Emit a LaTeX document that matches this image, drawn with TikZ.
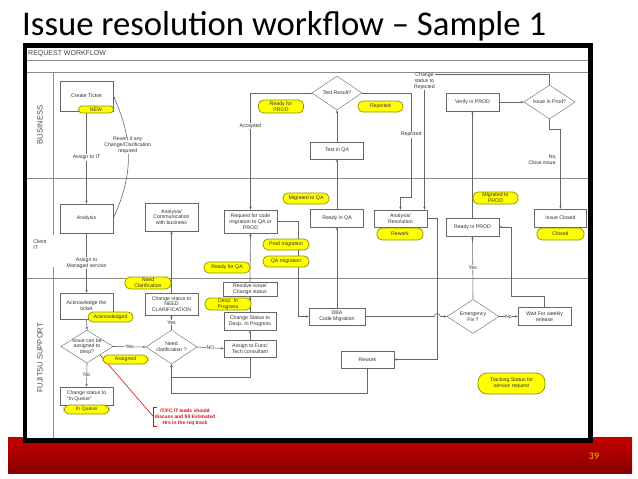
\documentclass[tikz,border=0pt]{standalone}
\usepackage{fontspec}
\setmainfont{Liberation Sans}
\newfontfamily\slidefont{Carlito}
\usetikzlibrary{shapes.geometric,arrows.meta}
\definecolor{lanegray}{HTML}{8C8C8C}
\definecolor{edgegray}{HTML}{666666}
\definecolor{tagfill}{HTML}{FFFF00}
\definecolor{tagline}{HTML}{8F8F00}
\definecolor{bandred}{HTML}{C40000}
\definecolor{pagenum}{HTML}{FFC000}
\definecolor{notered}{HTML}{D01010}
\tikzset{
  txt/.style={font=\fontsize{5.2}{5.8}\selectfont,text=black!80},
  box/.style={txt,draw=edgegray,fill=white,align=center,inner sep=1pt,minimum width=53pt,minimum height=18pt},
  dec/.style={txt,diamond,draw=edgegray,fill=white,align=center,inner sep=-2.5pt,aspect=1.5,minimum width=51pt,minimum height=34pt},
  tag/.style={txt,draw=tagline,fill=tagfill,line width=0.7pt,rounded corners=5pt,align=center,inner sep=0.5pt,minimum width=45pt,minimum height=11pt},
  flow/.style={draw=edgegray,line width=0.6pt},
  lbl/.style={txt,fill=white,inner sep=0.6pt,align=center},
  lane/.style={draw=lanegray,line width=0.8pt}
}
\begin{document}
\begin{tikzpicture}[x=1pt,y=-1pt,>={Stealth[length=3pt,width=2.4pt]}]
\useasboundingbox (0,0) rectangle (638,479);
% slide
\node[anchor=base west,inner sep=0pt,font=\slidefont\fontsize{34.7}{40}\selectfont] (title) at (22,35) {Issue resolution workflow – Sample 1};
\shade[top color=bandred,bottom color=bandred!70!black] (8,437) rectangle (632,473);
\node[font=\slidefont\fontsize{10}{12}\selectfont,text=pagenum] (pg) at (594,456) {39};
\draw[line width=4.5pt,fill=white] (25,45.5) rectangle (590.5,440.5);
% lanes
\draw[lane] (27,60)--(588,60) (27,72)--(588,72) (27,178)--(588,178) (27,278)--(588,278);
\draw[lane] (53,72)--(53,235) (53,267)--(53,438);
\node[anchor=west,inner sep=0pt,font=\fontsize{7}{8}\selectfont,text=black!75] (hdr) at (28,53.5) {REQUEST WORKFLOW};
\node[rotate=90,font=\fontsize{7.6}{9}\selectfont,text=black!70] (bus) at (40,125) {BUSINESS};
\node[txt,align=left] (cli) at (40,245) {Client\\IT};
\node[rotate=90,font=\fontsize{7.6}{9}\selectfont,text=black!70] (fjs) at (40,358) {FUJITSU SUPPORT};
% business
\node[box,minimum height=30pt] (ct) at (86.5,96) {Create Ticket};
\node[dec,minimum width=50pt] (tr) at (337,93) {Test Result?};
\node[box,minimum height=17pt] (tqa) at (337,150.5) {Test in QA};
\node[box] (vp) at (472.5,102) {Verify in PROD};
\node[dec] (ip) at (549.5,102) {Issue in Prod?};
\node[txt,align=center,inner sep=0.5pt] (chg) at (424.5,81) {Change\\status to\\Rejected};
% client it
\node[box,minimum height=29pt] (an) at (86.5,218.5) {Analysis};
\node[box,minimum height=28pt] (ac) at (171.5,217) {Analysis/\\Communication\\with business};
\node[box,minimum height=23pt] (rq) at (250.5,221.5) {Request for code\\migration to QA or\\PROD};
\node[box] (rqa) at (337,218) {Ready in QA};
\node[box,minimum height=17pt] (ar) at (400.5,218.5) {Analysis/\\Resolution};
\node[box] (rp) at (472.5,227) {Ready in PROD};
\node[box,minimum width=52pt] (ic) at (560.5,218) {Issue Closed};
% fujitsu support
\node[box,minimum height=26pt] (ack) at (86.5,306) {Acknowledge the\\ticket};
\node[dec,minimum width=52pt,minimum height=33pt] (d1) at (87,346.5) {Issue can be\\assigned to\\dexp?};
\node[dec] (d2) at (171.5,347) {Need\\clarification ?};
\node[box,align=left] (iq) at (86.5,396) {Change status to\\“In Queue”};
\node[box,minimum height=22pt] (cn) at (171.5,304) {Change status to\\NEED\\CLARIFICATION};
\node[box,minimum width=54pt,minimum height=14pt] (rs) at (250,289) {Resolve issue/\\Change status};
\node[box,minimum width=52pt] (cd) at (250,321) {Change Status to\\Dexp. In Progress};
\node[box,minimum width=52pt,minimum height=17pt] (af) at (250,348.5) {Assign to Func/\\Tech consultant};
\node[box,minimum width=56pt,minimum height=17pt] (dba) at (337,316.5) {DBA\\Code Migration};
\node[box,minimum height=17pt] (rw) at (367.5,359.5) {Rework};
\node[dec,minimum width=52pt] (ef) at (473,316.5) {Emergency\\Fix ?};
\node[box] (ww) at (544.5,316.5) {Wait For weekly\\release};
\node[txt,text=notered,font=\fontsize{4.9}{6}\selectfont\bfseries,align=center,inner sep=1pt] (nt) at (185,417) {IT/FC IT leads should\\discuss and fill Estimated\\Hrs in the req track};
\coordinate (hp) at ([xshift=10pt]ar.east |- dba.east);
% connectors
\draw[flow,->] (ct.south) -- node[lbl]{Assign to IT} (an.north);
\draw[flow,->] (an.east) to[bend right=25] node[lbl,pos=0.6]{Revert if any\\Change/Clarification\\required} (ct.east);
\draw[flow,->] (an.south) -- node[lbl]{Assign to\\Managed service} (ack.north);
\draw[flow,->] (ack.south) -- (d1.north);
\draw[flow,->] (d1.east) -- node[lbl]{Yes} (d2.west);
\draw[flow,->] (d1.south) -- node[lbl]{No} (iq.north);
\draw[flow,->] (d2.north) -- node[lbl]{Yes} (cn.south);
\draw[flow,->] (cn.north) -- (ac.south);
\draw[flow,->] (d2.east) -- node[lbl]{NO} (af.west);
\draw[flow,->] (af.north) -- (cd.south);
\draw[flow,->] (cd.north) -- (rs.south);
\draw[flow,->] (rs.north) -- (rq.south);
\draw[flow,->] (rq.east) -- ++(21,0) |- (dba.west);
\draw[flow,->] (dba.north) -- (rqa.south);
\draw[flow,->] (rqa.north) -- (tqa.south);
\draw[flow,->] (tqa.north) -- (tr.south);
\draw[flow,->] (tr.west) -| node[lbl,pos=0.64]{Accepted} (rq.north);
\draw[flow,->] (tr.east) -| node[lbl,pos=0.7]{Rejected} ++(49,104) -| (ar.north);
\draw[flow] (ip.north) |- ([yshift=-2pt]chg.north east);
\draw[flow,->] (chg.south) -- (chg.south |- ar.north);
\draw[flow,->] (ar.east) -- ++(10,0) |- (rw.east);
\draw[flow,->] (rw.south) -- ++(0,25) -| (d2.south);
\draw[flow,->] (af.south) -- ++(0,20) -| (d2.south);
\draw[flow,->] (dba.east) -- ([xshift=-3pt]hp) arc[start angle=180,end angle=0,radius=3pt] -- (ef.west);
\draw[flow,->] (ef.north) -- node[lbl]{Yes} (rp.south);
\draw[flow,->] (ef.east) -- node[lbl]{No} (ww.west);
\draw[flow,->] (ww.north) -- ++(0,-11) -| ([xshift=12pt]rp.east) -- (rp.east);
\draw[flow,->] (rp.north) -- (vp.south);
\draw[flow,->] (vp.east) -- (ip.west);
\draw[flow,->] (ip.south) -- ++(0,10) -| node[txt,pos=0.69,left,align=right]{No,\\Close issue.\hspace{6pt}} (ic.north);
\draw[notered,line width=0.6pt] (d1.south east) -- (nt.west);
\draw[notered,line width=0.6pt] ([xshift=3pt]nt.north west) -- (nt.north west) -- (nt.south west) -- ([xshift=3pt]nt.south west);
% status tags
\node[tag,minimum width=35pt,minimum height=7pt,rounded corners=3.5pt] (tnew) at (96,109.5) {NEW};
\node[tag,minimum height=13pt] (trp) at (281,106.5) {Ready for\\PROD};
\node[tag] (trj) at (380.5,106.5) {Rejected};
\node[tag,minimum width=46pt] (tmq) at (306,198.5) {Migrated to QA};
\node[tag,minimum width=46pt] (tpm) at (286,244.5) {Prod migration};
\node[tag,minimum width=46pt] (tqm) at (286,261.5) {QA migration};
\node[tag,minimum width=46pt] (trq) at (227,267.5) {Ready for QA};
\node[tag,minimum width=46pt,minimum height=12pt] (tnc) at (148,283) {Need\\Clarification};
\node[tag,minimum width=46pt,minimum height=12pt] (tdp) at (228,304) {Dexp. In\\Progress};
\node[tag,minimum height=10pt] (tak) at (110.5,317) {Acknowledged};
\node[tag,minimum height=9pt] (tas) at (125.5,359.5) {Assigned};
\node[tag,minimum height=9pt] (tiq) at (86.5,409.5) {In Queue};
\node[tag,minimum width=46pt,minimum height=12pt] (trw) at (400,234) {Rework};
\node[tag,minimum height=12pt] (tmp) at (495.5,198) {Migrated to\\PROD};
\node[tag,minimum width=47pt,minimum height=12pt] (tcl) at (560.5,234) {Closed};
\node[tag,minimum width=67pt,minimum height=21pt,rounded corners=9pt] (ttk) at (511.5,383.5) {Tracking Status for\\service request};
\end{tikzpicture}
\end{document}
